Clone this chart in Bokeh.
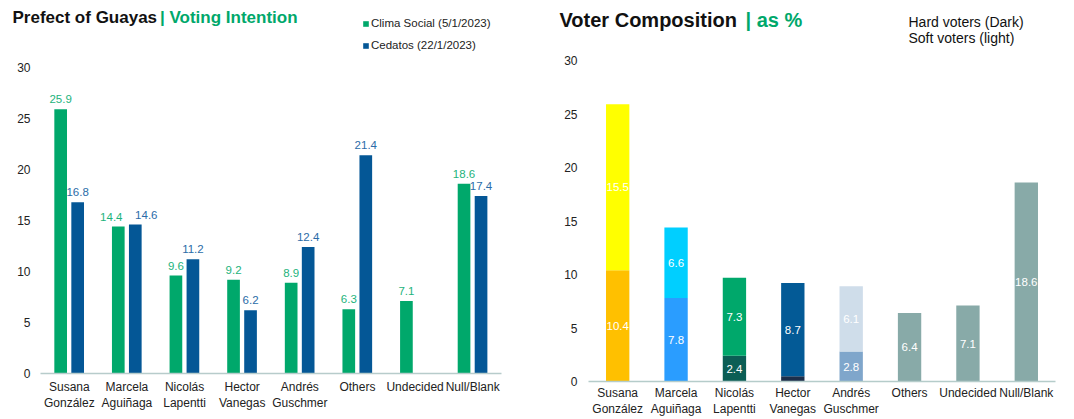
from bokeh.plotting import figure
from bokeh.models import ColumnDataSource, FactorRange, Label, Legend, LegendItem, Range1d
from bokeh.core.properties import value
from bokeh.transform import dodge
from bokeh.layouts import row, column
from bokeh.embed import file_html
from bokeh.resources import INLINE
import math

FONT = "Liberation Sans"

# ---------------- data ----------------
categories = ["Susana\nGonzález", "Marcela\nAguiñaga", "Nicolás\nLapentti", "Hector\nVanegas",
              "Andrés\nGuschmer", "Others", "Undecided", "Null/Blank"]
clima_social = [25.9, 14.4, 9.6, 9.2, 8.9, 6.3, 7.1, 18.6]
cedatos = [16.8, 14.6, 11.2, 6.2, 12.4, 21.4, float("nan"), 17.4]

hard_voters = [10.4, 7.8, 2.4, 0.5, 2.8, 6.4, 7.1, 18.6]
soft_voters = [15.5, 6.6, 7.3, 8.7, 6.1, 0.0, 0.0, 0.0]
hard_colors = ["#FFC000", "#2A9DFF", "#0B5E55", "#1C2E4A", "#7FA6CB", "#88AAA8", "#88AAA8", "#88AAA8"]
soft_colors = ["#FFFF00", "#00CFFF", "#00A86B", "#035A96", "#CFDDEA", "#88AAA8", "#88AAA8", "#88AAA8"]
y_ticks = [0, 5, 10, 15, 20, 25, 30]

# label nudges (pixels) used to keep neighbouring value labels apart
clima_label_nudge = [0, -7, 0, 0, 0, 0, 0, 0]
cedatos_label_nudge = [0, 11, 0, 0, 0, 0, 0, 0]

GREEN = "#00A86B"
BLUE = "#045796"
HEAD_H = 52
W = 1074

def fmt(v):
    return "" if (v is None or (isinstance(v, float) and math.isnan(v))) else f"{v:.1f}"

def style_axes(p, xsize, ysize, ystandoff, xstandoff, line_color):
    p.outline_line_color = None
    p.grid.grid_line_color = None
    p.yaxis.ticker = y_ticks
    p.yaxis.axis_line_color = None
    p.yaxis.major_tick_line_color = None
    p.yaxis.minor_tick_line_color = None
    p.yaxis.major_tick_out = 0
    p.yaxis.major_label_standoff = ystandoff
    p.yaxis.major_label_text_font_size = ysize
    p.yaxis.major_label_text_font = FONT
    p.yaxis.major_label_text_color = "#222222"
    p.xaxis.axis_line_color = line_color
    p.xaxis.axis_line_width = 1.5
    p.xaxis.major_tick_line_color = None
    p.xaxis.minor_tick_line_color = None
    p.xaxis.major_tick_out = 0
    p.xaxis.major_tick_in = 0
    p.xaxis.major_label_standoff = xstandoff
    p.xaxis.major_label_text_font_size = xsize
    p.xaxis.major_label_text_font = FONT
    p.xaxis.major_label_text_color = "#222222"

# ---------------- header (titles + legends) ----------------
h = figure(x_range=Range1d(0, W), y_range=Range1d(HEAD_H, 0), width=W, height=HEAD_H,
           output_backend="svg", toolbar_location=None, x_axis_location=None, y_axis_location=None,
           min_border=0, min_border_left=0, min_border_right=0, min_border_top=0, min_border_bottom=0,
           frame_align=False)
h.outline_line_color = None
h.grid.grid_line_color = None
h.add_layout(Label(x=12, y=26.3, text="Prefect of Guayas",
                   text_font=FONT, text_font_style="bold", text_font_size="17px",
                   text_color="#111111"))
h.add_layout(Label(x=159.5, y=26.3, text="| Voting Intention",
                   text_font=FONT, text_font_style="bold", text_font_size="17px",
                   text_color=GREEN))
# legend swatches: renderers kept off-screen, only their legend glyphs show
lg1 = h.vbar(x=[-50], top=[0], width=1, fill_color=GREEN, line_color=None)
lg2 = h.vbar(x=[-50], top=[0], width=1, fill_color=BLUE, line_color=None)
legend = Legend(items=[LegendItem(label="Clima Social (5/1/2023)", renderers=[lg1]),
                       LegendItem(label="Cedatos (22/1/2023)", renderers=[lg2])],
                location=(362, 1), glyph_width=7, glyph_height=7, label_standoff=2,
                label_height=7, spacing=10, padding=0, margin=0,
                label_text_font_size="11.5px", label_text_font=FONT, label_text_color="#222222",
                border_line_alpha=0, background_fill_alpha=0)
h.add_layout(legend)
h.add_layout(Label(x=559, y=30, text="Voter Composition",
                   text_font=FONT, text_font_style="bold", text_font_size="20px",
                   text_color="#111111"))
h.add_layout(Label(x=745, y=30, text="| as %",
                   text_font=FONT, text_font_style="bold", text_font_size="20px",
                   text_color=GREEN))
h.add_layout(Label(x=908, y=21.7, text="Hard voters (Dark)",
                   text_font=FONT, text_font_size="14px", text_color="#111111",
                   text_baseline="middle"))
h.add_layout(Label(x=908, y=37.7, text="Soft voters (light)",
                   text_font=FONT, text_font_size="14px", text_color="#111111",
                   text_baseline="middle"))

# ---------------- left chart ----------------
src_l = ColumnDataSource(dict(
    cat=categories, clima=clima_social, cedatos=cedatos,
    clima_lbl=[fmt(v) for v in clima_social],
    ced_lbl=[fmt(v) for v in cedatos],
    clima_dx=clima_label_nudge, ced_dx=cedatos_label_nudge,
))

p1 = figure(x_range=FactorRange(*categories), y_range=(0, 30), width=540, height=419 - HEAD_H,
            output_backend="svg", toolbar_location=None, frame_align=False,
            min_border_left=40, min_border_right=39, min_border_top=15, min_border_bottom=46)

p1.vbar(x=dodge("cat", -0.15, range=p1.x_range), top="clima", width=0.22, source=src_l,
        fill_color=GREEN, line_color=None)
p1.vbar(x=dodge("cat", 0.145, range=p1.x_range), top="cedatos", width=0.22, source=src_l,
        fill_color=BLUE, line_color=None)
p1.text(x=dodge("cat", -0.15, range=p1.x_range), y="clima", text="clima_lbl", source=src_l,
        x_offset="clima_dx", text_align="center", text_baseline="bottom", y_offset=-6,
        text_font_size="11.5px", text_color="#1DB37C", text_font=value(FONT))
p1.text(x=dodge("cat", 0.145, range=p1.x_range), y="cedatos", text="ced_lbl", source=src_l,
        x_offset="ced_dx", text_align="center", text_baseline="bottom", y_offset=-6,
        text_font_size="11.5px", text_color="#2B6CA8", text_font=value(FONT))
style_axes(p1, "12px", "12px", 10, 6, "#B7CCCB")

# ---------------- right chart ----------------
src_r = ColumnDataSource(dict(
    cat=categories, hard=hard_voters, soft=soft_voters,
    total=[a + b for a, b in zip(hard_voters, soft_voters)],
    hard_mid=[a / 2 for a in hard_voters],
    soft_mid=[a + b / 2 for a, b in zip(hard_voters, soft_voters)],
    hard_lbl=[fmt(a) if a >= 1 else "" for a in hard_voters],
    soft_lbl=[fmt(b) if b > 0 else "" for b in soft_voters],
    hc=hard_colors, sc=soft_colors,
))

p2 = figure(x_range=FactorRange(*categories), y_range=(0, 30), width=534, height=419 - HEAD_H,
            output_backend="svg", toolbar_location=None, frame_align=False,
            min_border_left=48, min_border_right=19, min_border_top=8, min_border_bottom=35)

p2.vbar(x="cat", bottom=0, top="hard", width=0.4, source=src_r, fill_color="hc", line_color=None)
p2.vbar(x="cat", bottom="hard", top="total", width=0.4, source=src_r, fill_color="sc", line_color=None)
p2.text(x="cat", y="hard_mid", text="hard_lbl", source=src_r, text_align="center",
        text_baseline="middle", text_font_size="11.5px", text_color="white", text_font=value(FONT))
p2.text(x="cat", y="soft_mid", text="soft_lbl", source=src_r, text_align="center",
        text_baseline="middle", text_font_size="11.5px", text_color="white", text_font=value(FONT))
style_axes(p2, "12px", "12px", 11, 4, "#B5CCCA")

layout = column(h, row(p1, p2, spacing=0), spacing=0)
open("out.html", "w").write(file_html(layout, INLINE))
